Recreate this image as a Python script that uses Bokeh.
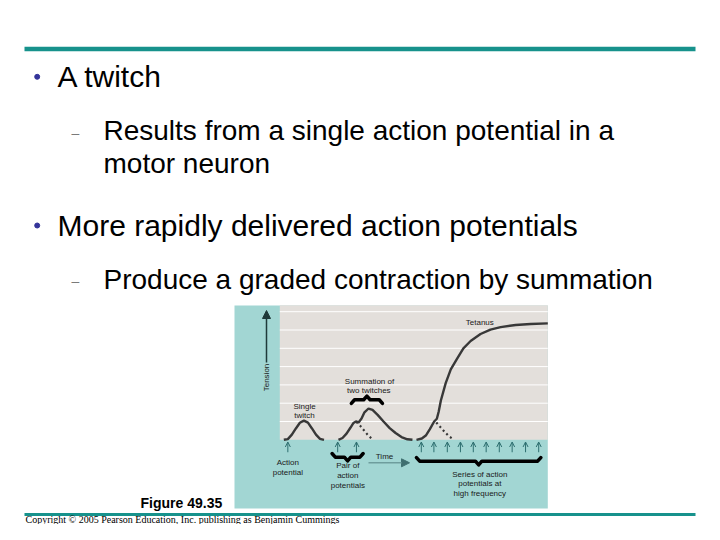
import math
from bokeh.plotting import figure
from bokeh.models import Range1d, ColumnDataSource, Arrow, OpenHead, NormalHead
from bokeh.core.properties import value
from bokeh.embed import file_html
from bokeh.resources import INLINE

# ---------------- data (time in arbitrary units 0-100, tension in gridline units) ----------------
single_t = [1.5, 3, 4.5, 6, 7.5, 9, 10.5, 12, 13.5, 15, 16.5]
single_v = [0, 0.04, 0.28, 0.62, 0.93, 1.05, 0.94, 0.62, 0.28, 0.05, 0]

sum_t = [21.9, 23.4, 24.9, 26.4, 27.5, 28.4, 29.4, 30.5, 31.6, 33.1, 34.6, 36.5, 38.7, 41.0, 43.2, 45.4, 47.6, 49.5]
sum_v = [0, 0.1, 0.34, 0.67, 0.92, 1.0, 0.95, 1.16, 1.5, 1.71, 1.63, 1.36, 1.0, 0.64, 0.37, 0.15, 0.03, 0]
sum_decay_t = [28.6, 30.1, 31.6, 33.1, 34.6]
sum_decay_v = [0.98, 0.75, 0.48, 0.22, 0.03]

tet_t = [51, 53, 54.6, 56, 57.6, 58.6, 59.3, 60.1, 61.9, 63.8, 66, 68.5, 71.2, 74.9, 78.6, 82.4, 88, 93.6, 100]
tet_v = [0, 0.07, 0.25, 0.58, 1.0, 1.15, 1.55, 2.15, 3.1, 3.85, 4.4, 5.0, 5.4, 5.78, 6.02, 6.16, 6.27, 6.33, 6.36]
tet_decay_t = [58.4, 60, 61.6, 63.2, 64.8]
tet_decay_v = [0.95, 0.68, 0.42, 0.18, 0.03]

ap_single = [3.0]
ap_pair = [21.6, 28.6]
ap_series = [52.8, 57.5, 62.5, 67.4, 72.2, 77.0, 81.9, 86.7, 91.7, 96.6]
tension_grid = [1, 2, 3, 4, 5, 6, 7]
time_span = [0, 100]
plot_top = 7.35

# slide texts
title1 = "A twitch"
sub1a = "Results from a single action potential in a"
sub1b = "motor neuron"
title2 = "More rapidly delivered action potentials"
sub2 = "Produce a graded contraction by summation"
fig_caption = "Figure 49.35"
copyright_txt = "Copyright \u00a9 2005 Pearson Education, Inc. publishing as Benjamin Cummings"

diag_labels = ["Tetanus", "Summation of", "two twitches", "Single", "twitch",
               "Action", "potential", "Pair of", "action", "potentials", "Time",
               "Series of action", "potentials at", "high frequency"]

# ---------------- layout ----------------
TEAL = "#17928c"
BOX = "#a2d6d3"
GRAY = "#e3dfdb"
CURVE = "#383838"
AP_COL = "#2d6e6f"
SANS = value("Liberation Sans")

W, H = 704, 524
DX0, DPX = 279.3, 2.68      # time 0 at x=279.3, 2.68 px per unit
DY0, DPY = 439.3, 18.3      # tension 0 at y=439.3, 18.3 px per unit

p = figure(width=W, height=H, x_range=Range1d(0, W), y_range=Range1d(H, 0),
           x_axis_location=None, y_axis_location=None, toolbar_location=None,
           output_backend="svg", min_border=0, outline_line_color=None,
           background_fill_color="white", border_fill_color="white")
p.grid.visible = False
p.extra_x_ranges = {"time": Range1d(start=(0 - DX0) / DPX, end=(W - DX0) / DPX)}
p.extra_y_ranges = {"tension": Range1d(start=(DY0 - H) / DPY, end=(DY0 - 0) / DPY)}
R = dict(x_range_name="time", y_range_name="tension")

# slide rules
p.segment(x0=[24], y0=[48.5], x1=[695], y1=[48.5], line_color=TEAL, line_width=4.5)
p.segment(x0=[24], y0=[514], x1=[695], y1=[514], line_color=TEAL, line_width=3)

# bullets
p.scatter(x=[36.7, 36.7], y=[76.3, 225], size=5, marker="circle", fill_color="#34349a", line_color="#34349a")
p.text(x=[71, 71], y=[132, 280.5], text=["\u2013", "\u2013"], text_font=SANS, text_font_size=value("14px"),
       text_color="#7a7a7a", text_baseline="middle", text_align="left")

p.text(x=[57, 57], y=[75.9, 224.6], text=[title1, title2], text_font=SANS, text_font_size=value("30px"),
       text_color="black", text_baseline="middle", text_align="left")
p.text(x=[103, 103, 103], y=[130.3, 163.3, 278.8], text=[sub1a, sub1b, sub2], text_font=SANS,
       text_font_size=value("28px"), text_color="black", text_baseline="middle", text_align="left")

p.text(x=[140], y=[502.1], text=[fig_caption], text_font=SANS, text_font_size=value("14px"),
       text_font_style="bold", text_color="black", text_baseline="middle", text_align="left")
p.text(x=[25], y=[518.8], text=[copyright_txt], text_font=value("Liberation Serif"),
       text_font_size=value("10px"), text_color="black", text_baseline="middle", text_align="left")

# diagram box
p.quad(left=[234], right=[547.3], top=[305], bottom=[508], fill_color=BOX, line_color=None)
p.quad(left=[time_span[0]], right=[time_span[1]], bottom=[0], top=[plot_top], fill_color=GRAY, line_color=None, **R)
p.segment(x0=[time_span[0]] * len(tension_grid), x1=[time_span[1]] * len(tension_grid),
          y0=tension_grid, y1=tension_grid, line_color="white", line_width=1, **R)

# curves
p.line(single_t, single_v, line_color=CURVE, line_width=2.4, **R)
p.line(sum_t, sum_v, line_color=CURVE, line_width=2.4, **R)
p.line(sum_decay_t, sum_decay_v, line_color=CURVE, line_width=2.2, line_dash="2 3", **R)
p.line(tet_t, tet_v, line_color=CURVE, line_width=2.4, **R)
p.line(tet_decay_t, tet_decay_v, line_color=CURVE, line_width=2.2, line_dash="2 3", **R)

# action potential arrows
ap_all = ap_single + ap_pair + ap_series
src = ColumnDataSource(dict(x=ap_all, y0=[-0.68] * len(ap_all), y1=[-0.12] * len(ap_all)))
p.add_layout(Arrow(end=OpenHead(size=5, line_color=AP_COL, line_width=1),
                   x_start="x", y_start="y0", x_end="x", y_end="y1", source=src,
                   line_color=AP_COL, line_width=1, **R))

# braces
def brace(x0, x1, y, h, d, up):
    xm = (x0 + x1) / 2
    s = 1 if up else -1
    xs = [x0, x0 + d, xm - d, xm, xm + d, x1 - d, x1]
    ys = [y - s * h, y, y, y + s * h, y, y, y - s * h]
    return xs, ys

b1 = brace(ap_pair[0] - 2.1, ap_pair[-1] + 2.5, -0.95, 0.2, 1.2, False)
b2 = brace(ap_series[0] - 1.8, ap_series[-1] + 0.8, -1.17, 0.2, 1.2, False)
b3 = brace(26.7, 38.3, 2.19, 0.2, 1.2, True)
p.multi_line(xs=[b1[0], b2[0], b3[0]], ys=[b1[1], b2[1], b3[1]], line_color="black",
             line_width=3.5, line_join="round", line_cap="round", **R)

# axis arrows
p.add_layout(Arrow(end=NormalHead(size=8, fill_color="#1f3a3a", line_color="#1f3a3a"),
                   x_start=266, y_start=362, x_end=266, y_end=310, line_color="#1f3a3a", line_width=1.5))
p.add_layout(Arrow(end=NormalHead(size=8, fill_color="#3f6f70", line_color="#3f6f70"),
                   x_start=368, y_start=462.3, x_end=409, y_end=462.3, line_color="#6e9d9d", line_width=1.5))

# diagram labels
lx = [479.3, 369, 368.3, 304, 304, 287.3, 287.3, 347.3, 347.3, 347.3, 384, 479.3, 479.3, 479.3]
ly = [321.7, 380.7, 390, 406, 414.5, 462.3, 472.3, 464.5, 474.5, 485, 455.7, 474, 483.3, 492.7]
p.text(x=lx, y=ly, text=diag_labels, text_font=SANS, text_font_size=value("8px"), text_color="#1a1a1a",
       text_align="center", text_baseline="middle")
p.text(x=[266], y=[377], text=["Tension"], angle=math.pi / 2, text_font=SANS, text_font_size=value("8px"),
       text_color="#1a1a1a", text_align="center", text_baseline="middle")

open("out.html", "w").write(file_html(p, INLINE))
